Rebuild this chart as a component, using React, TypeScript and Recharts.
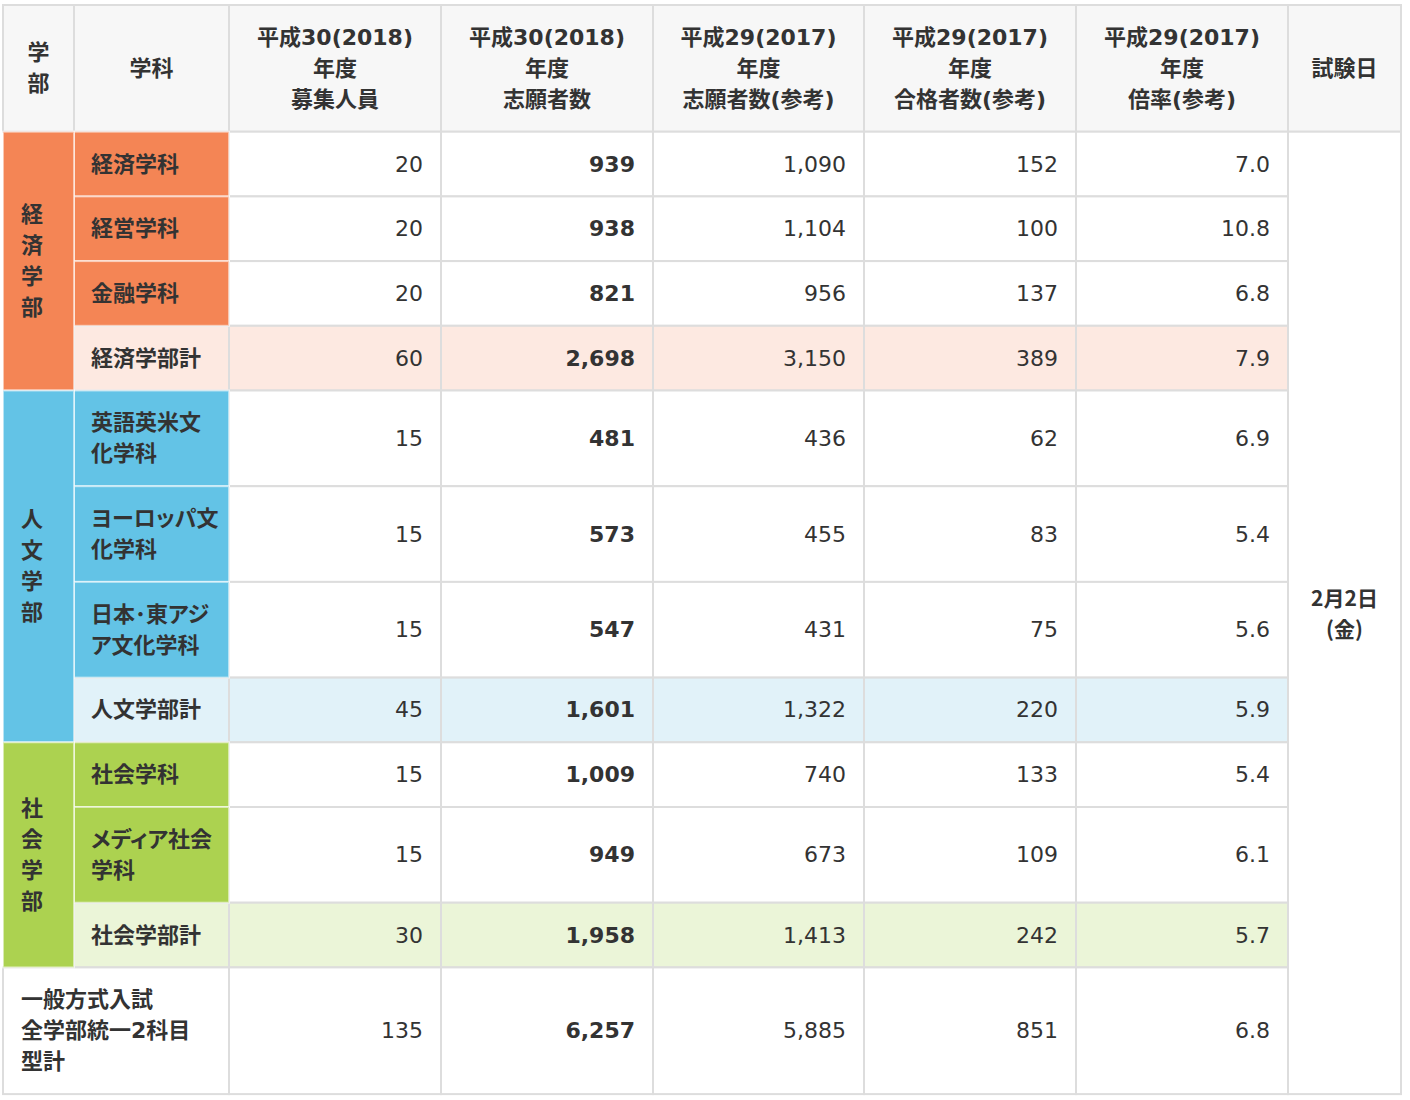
import React from 'react';
import { ComposedChart, Scatter, XAxis, YAxis } from 'recharts';

// ---------- data ----------
const headers = [
  '学\n部',
  '学科',
  '平成30(2018)\n年度\n募集人員',
  '平成30(2018)\n年度\n志願者数',
  '平成29(2017)\n年度\n志願者数(参考)',
  '平成29(2017)\n年度\n合格者数(参考)',
  '平成29(2017)\n年度\n倍率(参考)',
  '試験日',
];

const faculties = ['経済学部', '人文学部', '社会学部'];

const rowLabels = [
  '経済学科', '経営学科', '金融学科', '経済学部計',
  '英語英米文\n化学科', 'ヨーロッパ文\n化学科', '日本･東アジ\nア文化学科', '人文学部計',
  '社会学科', 'メディア社会\n学科', '社会学部計',
];
const rowFaculty = [0, 0, 0, 0, 1, 1, 1, 1, 2, 2, 2];
const rowIsTotal = [false, false, false, true, false, false, false, true, false, false, true];

const capacity2018 = [20, 20, 20, 60, 15, 15, 15, 45, 15, 15, 30];
const applicants2018 = [939, 938, 821, 2698, 481, 573, 547, 1601, 1009, 949, 1958];
const applicants2017 = [1090, 1104, 956, 3150, 436, 455, 431, 1322, 740, 673, 1413];
const passed2017 = [152, 100, 137, 389, 62, 83, 75, 220, 133, 109, 242];
const ratio2017 = [7.0, 10.8, 6.8, 7.9, 6.9, 5.4, 5.6, 5.9, 5.4, 6.1, 5.7];

const grandLabel = '一般方式入試\n全学部統一2科目\n型計';
const grandValues = [135, 6257, 5885, 851, 6.8];

const examDate = '2月2日\n(金)';

// ---------- style / layout constants ----------
const W = 1410;
const H = 1100;
const colX = [3, 74, 229, 441, 653, 864, 1076, 1288, 1401];
const TOP = 5;
const LINE_H = 31;
const ROW_PAD = 33.7;
const FONT = "'DejaVu Sans', 'Noto Sans CJK JP', sans-serif";
const CJK = "'Noto Sans CJK JP', sans-serif";
const TEXT = '#333333';
const GRID = '#dddddd';
const GRID_ON_COLOR = 'rgba(255,255,255,0.55)';
const HEADER_BG = '#f7f7f7';
const strongColors = ['#f48555', '#63c3e6', '#acd250'];
const lightColors = ['#fde9e1', '#e1f2f9', '#ebf5d8'];

const rowHeight = (n: number) => ROW_PAD + LINE_H * n;
const nLines = (s: string) => s.split('\n').length;

type Cell = {
  x: number; y: number; w: number; h: number;
  fill: string; stroke: string;
  text: string; align: 'left' | 'right' | 'center';
  pad: number; bold: boolean; font: string; size: number; palt?: boolean;
};

// row geometry from content line counts
const headerH = rowHeight(3);
const bodyH = rowLabels.map((l) => rowHeight(Math.max(1, nLines(l))));
const grandH = rowHeight(nLines(grandLabel));
const rowTop: number[] = [];
{
  let y = TOP + headerH;
  bodyH.forEach((h) => { rowTop.push(y); y += h; });
}
const grandTop = rowTop[rowTop.length - 1] + bodyH[bodyH.length - 1];

const fmt = (v: number, k: number) => (k === 4 ? v.toFixed(1) : v.toLocaleString('en-US'));

const baseCells: Cell[] = [];
const strongCells: Cell[] = [];

// header
headers.forEach((t, i) => {
  baseCells.push({
    x: colX[i], y: TOP, w: colX[i + 1] - colX[i], h: headerH,
    fill: HEADER_BG, stroke: GRID, text: t, align: 'center', pad: 0,
    bold: true, font: FONT, size: 22,
  });
});

// body rows
const valueCols = [capacity2018, applicants2018, applicants2017, passed2017, ratio2017];
rowLabels.forEach((label, r) => {
  const f = rowFaculty[r];
  const total = rowIsTotal[r];
  const y = rowTop[r];
  const h = bodyH[r];
  const labelCell: Cell = {
    x: colX[1], y, w: colX[2] - colX[1], h,
    fill: total ? lightColors[f] : strongColors[f],
    stroke: total ? GRID : GRID_ON_COLOR,
    text: label, align: 'left', pad: 17, bold: true, font: FONT, size: 22, palt: true,
  };
  (total ? baseCells : strongCells).push(labelCell);
  valueCols.forEach((arr, k) => {
    baseCells.push({
      x: colX[2 + k], y, w: colX[3 + k] - colX[2 + k], h,
      fill: total ? lightColors[f] : '#ffffff', stroke: GRID,
      text: fmt(arr[r], k), align: 'right', pad: 18,
      bold: k === 1, font: FONT, size: 22,
    });
  });
});

// faculty spanning cells
faculties.forEach((name, f) => {
  const rows = rowFaculty.map((v, i) => (v === f ? i : -1)).filter((i) => i >= 0);
  const y = rowTop[rows[0]];
  const h = rows.reduce((s, i) => s + bodyH[i], 0);
  strongCells.push({
    x: colX[0], y, w: colX[1] - colX[0], h,
    fill: strongColors[f], stroke: GRID_ON_COLOR,
    text: name.split('').join('\n'), align: 'left', pad: 18,
    bold: true, font: FONT, size: 22,
  });
});

// grand total row
baseCells.push({
  x: colX[0], y: grandTop, w: colX[2] - colX[0], h: grandH,
  fill: '#ffffff', stroke: GRID, text: grandLabel, align: 'left', pad: 18,
  bold: true, font: FONT, size: 22,
});
grandValues.forEach((v, k) => {
  baseCells.push({
    x: colX[2 + k], y: grandTop, w: colX[3 + k] - colX[2 + k], h: grandH,
    fill: '#ffffff', stroke: GRID, text: fmt(v, k), align: 'right', pad: 18,
    bold: k === 1, font: FONT, size: 22,
  });
});

// exam date spanning cell
baseCells.push({
  x: colX[7], y: rowTop[0], w: colX[8] - colX[7], h: grandTop + grandH - rowTop[0],
  fill: '#ffffff', stroke: GRID, text: examDate, align: 'center', pad: 0,
  bold: true, font: CJK, size: 21,
});

const renderCell = (props: any) => {
  const { cx, cy, payload } = props;
  const c: Cell = payload;
  const lines = c.text.split('\n');
  const mid = cy + c.h / 2;
  let tx = cx + c.w / 2;
  let anchor: 'start' | 'end' | 'middle' = 'middle';
  if (c.align === 'left') { tx = cx + c.pad; anchor = 'start'; }
  if (c.align === 'right') { tx = cx + c.w - c.pad; anchor = 'end'; }
  return (
    <g>
      <rect x={cx} y={cy} width={c.w} height={c.h} fill={c.fill} stroke={c.stroke} strokeWidth={2} />
      {lines.map((ln, i) => (
        <text
          key={i}
          x={tx}
          y={mid + (i - (lines.length - 1) / 2) * LINE_H}
          textAnchor={anchor}
          dominantBaseline="central"
          fontFamily={c.font}
          fontSize={c.size}
          fontWeight={c.bold ? 700 : 400}
          fill={TEXT}
          style={c.palt ? { fontFeatureSettings: "'palt'" } : undefined}
        >
          {ln}
        </text>
      ))}
    </g>
  );
};

export default function App() {
  return (
    <div style={{ position: 'absolute', left: 0, top: 0, width: W, height: H, background: '#ffffff' }}>
      <ComposedChart width={W} height={H} margin={{ top: 0, right: 0, bottom: 0, left: 0 }}>
        <XAxis type="number" dataKey="x" domain={[0, W]} allowDataOverflow hide />
        <YAxis type="number" dataKey="y" domain={[0, H]} allowDataOverflow reversed hide />
        <Scatter data={baseCells} dataKey="y" shape={renderCell} isAnimationActive={false} />
        <Scatter data={strongCells} dataKey="y" shape={renderCell} isAnimationActive={false} />
      </ComposedChart>
    </div>
  );
}
